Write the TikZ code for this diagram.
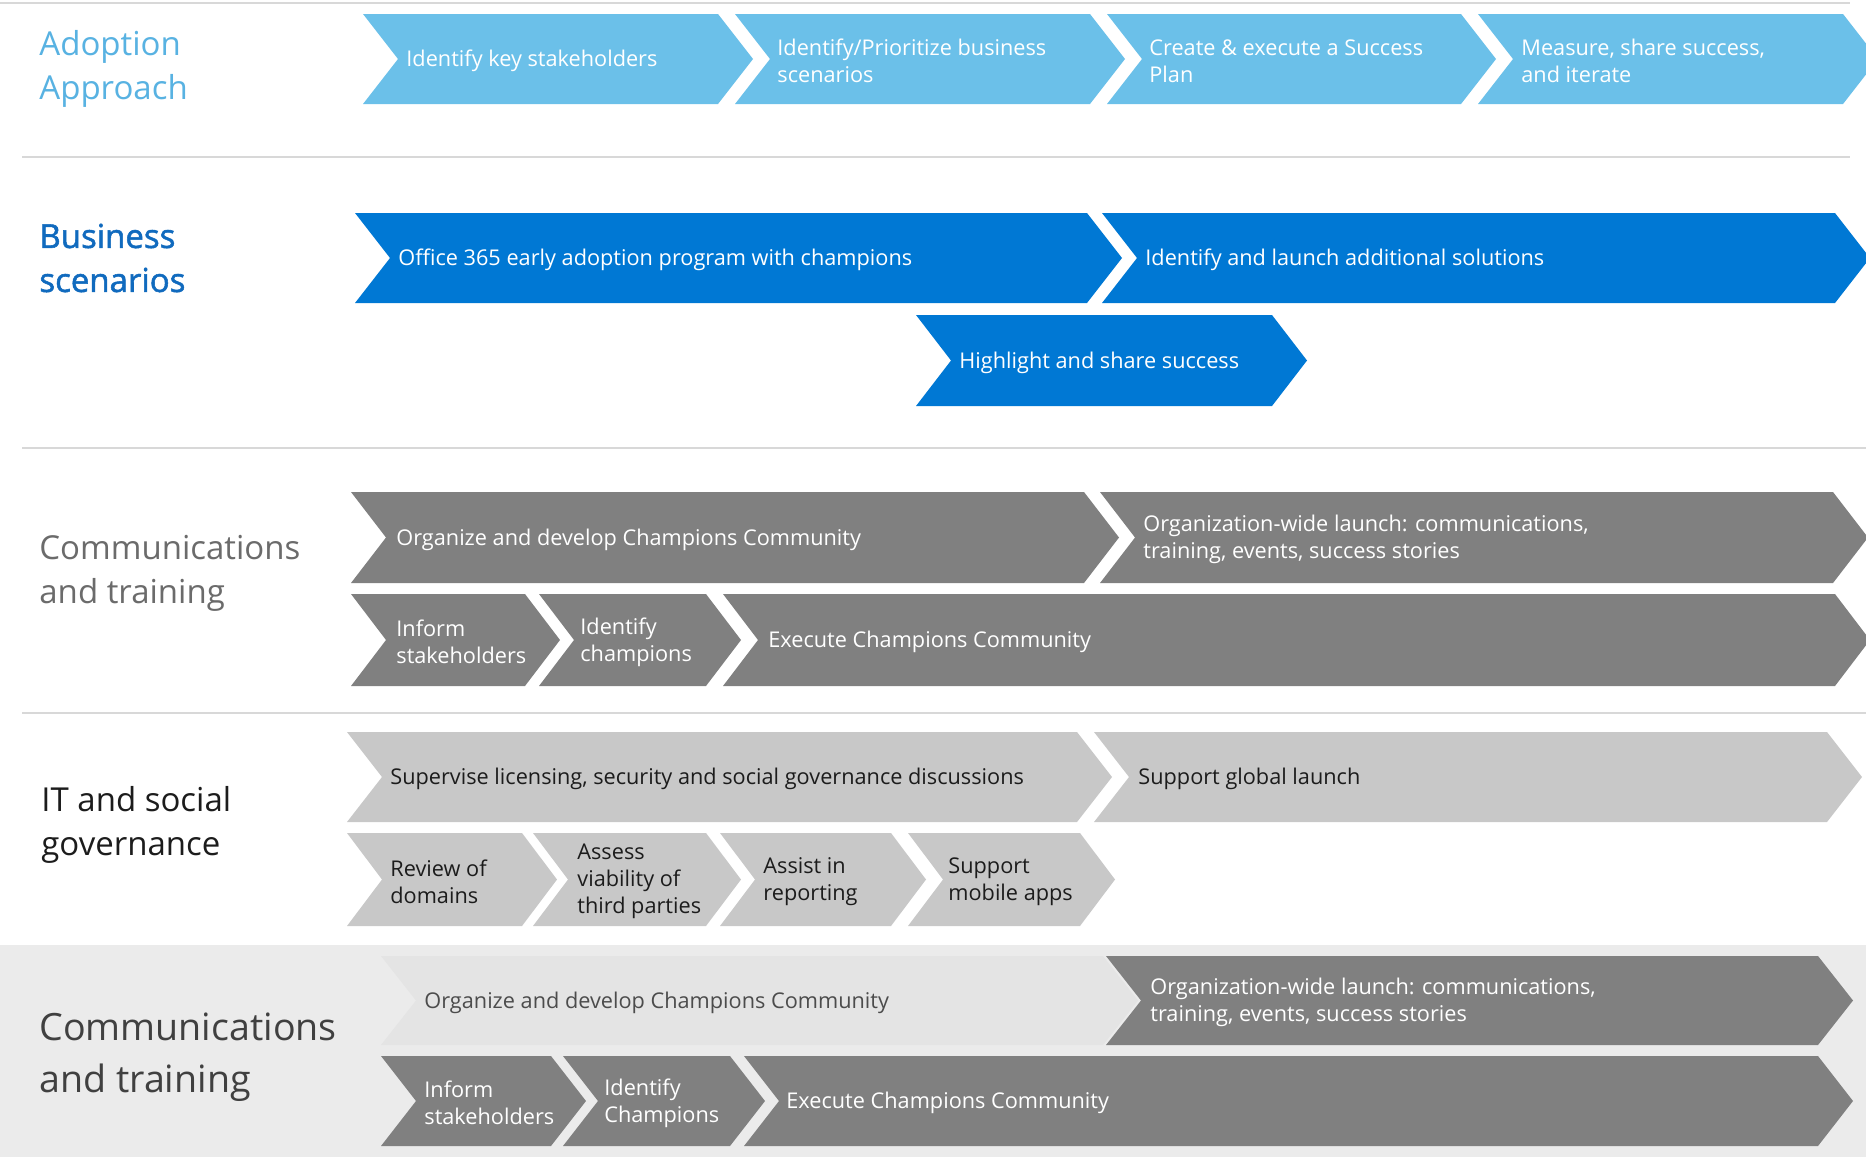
\documentclass[tikz,border=0pt]{standalone}
\usepackage{fontspec}
\setmainfont{Open Sans}
\newfontface\semibfont{Open Sans}[FakeBold=1.6]
\definecolor{lblue}{RGB}{107,192,233}
\definecolor{lbluetxt}{RGB}{88,178,226}
\definecolor{dblue}{RGB}{0,120,212}
\definecolor{dbluetxt}{RGB}{16,106,190}
\definecolor{dgrey}{RGB}{128,128,128}
\definecolor{dgreytxt}{RGB}{107,107,107}
\definecolor{lgrey}{RGB}{200,200,200}
\definecolor{blacktxt}{RGB}{28,28,28}
\definecolor{rowbg}{RGB}{235,235,235}
\definecolor{palechev}{RGB}{228,228,228}
\definecolor{sepline}{RGB}{216,216,216}
\tikzset{
  chevtxt/.style={anchor=west, inner sep=0pt, align=left, font=\fontsize{10.85}{13.5}\selectfont},
  lbl/.style={anchor=west, inner sep=0pt, align=left, font=\fontsize{16.5}{22}\selectfont},
  biglbl/.style={anchor=west, inner sep=0pt, align=left, font=\fontsize{18.8}{26}\selectfont},
  sep/.style={draw=sepline, line width=1.2pt}
}
\newcommand\chevshape[5]{\fill[#1] (#2,#4) -- ({#3-35},#4) -- (#3,{(#4+#5)/2}) -- ({#3-35},#5) -- (#2,#5) -- ({#2+35},{(#4+#5)/2}) -- cycle;}
\begin{document}
\begin{tikzpicture}[x=0.5pt,y=-0.5pt]
\path[use as bounding box, fill=white] (0,0) rectangle (1866,1157);

% separators
\draw[sep] (0,3) -- (1850,3);
\draw[sep] (22,157) -- (1850,157);
\draw[sep] (22,448) -- (1866,448);
\draw[sep] (22,713) -- (1866,713);

% ---------- Row 1: Adoption Approach
\node[lbl, text=lbluetxt] (lA) at (39,69) {Adoption\\Approach};
\chevshape{lblue}{363}{753}{14}{104}
\chevshape{lblue}{735}{1125}{14}{104}
\chevshape{lblue}{1107}{1496}{14}{104}
\chevshape{lblue}{1478}{1878}{14}{104}
\node[chevtxt, text=white] (a1) at (406,61) {Identify key stakeholders};
\node[chevtxt, text=white] (a2) at (777,61) {Identify/Prioritize business\\scenarios};
\node[chevtxt, text=white] (a3) at (1149,61) {Create \& execute a Success\\Plan};
\node[chevtxt, text=white] (a4) at (1521,61) {Measure, share success,\\and iterate};

% ---------- Row 2: Business scenarios
\node[lbl, text=dbluetxt, font=\fontsize{16.5}{22}\semibfont] (lB) at (39,258) {Business\\scenarios};
\chevshape{dblue}{355}{1122}{213}{303}
\chevshape{dblue}{1102}{1870}{213}{303}
\chevshape{dblue}{916}{1307}{315}{406}
\node[chevtxt, text=white] (b1) at (398,260) {Office 365 early adoption program with champions};
\node[chevtxt, text=white] (b2) at (1145,260) {Identify and launch additional solutions};
\node[chevtxt, text=white] (b3) at (959,362.5) {Highlight and share success};

% ---------- Row 3: Communications and training
\node[lbl, text=dgreytxt] (lC) at (39,573) {Communications\\and training};
\chevshape{dgrey}{351}{1119}{492}{583}
\chevshape{dgrey}{1100}{1868}{492}{583}
\chevshape{dgrey}{351}{560}{594}{686}
\chevshape{dgrey}{539}{741}{594}{686}
\chevshape{dgrey}{723}{1870}{594}{686}
\node[chevtxt, text=white] (c1) at (396,539.5) {Organize and develop Champions Community};
\node[chevtxt, text=white] (c2) at (1143,539.5) {Organization-wide launch: communications,\\training, events, success stories};
\node[chevtxt, text=white] (c3) at (396,642) {Inform\\stakeholders};
\node[chevtxt, text=white] (c4) at (580,642) {Identify\\champions};
\node[chevtxt, text=white] (c5) at (768,642) {Execute Champions Community};

% ---------- Row 4: IT and social governance
\node[lbl, text=blacktxt] (lD) at (41,825) {IT and social\\governance};
\chevshape{lgrey}{347}{1112}{732}{822}
\chevshape{lgrey}{1094}{1862}{732}{822}
\chevshape{lgrey}{347}{557}{833}{926}
\chevshape{lgrey}{533}{741}{833}{926}
\chevshape{lgrey}{720}{926}{833}{926}
\chevshape{lgrey}{908}{1115}{833}{926}
\node[chevtxt, text=blacktxt] (d1) at (390,779) {Supervise licensing, security and social governance discussions};
\node[chevtxt, text=blacktxt] (d2) at (1138,779) {Support global launch};
\node[chevtxt, text=blacktxt] (d3) at (390,881.5) {Review of\\domains};
\node[chevtxt, text=blacktxt] (d4) at (577,881.5) {Assess\\viability of\\third parties};
\node[chevtxt, text=blacktxt] (d5) at (763,881.5) {Assist in\\reporting};
\node[chevtxt, text=blacktxt] (d6) at (948,881.5) {Support\\mobile apps};

% ---------- Row 5: Communications and training (highlighted)
\fill[rowbg] (0,945) rectangle (1866,1157);
\node[biglbl, text=black!75] (lE) at (39,1057) {Communications\\and training};
\chevshape{palechev}{381}{1138}{956}{1045}
\chevshape{dgrey}{1106}{1853}{956}{1045}
\chevshape{dgrey}{381}{586}{1056}{1146}
\chevshape{dgrey}{563}{765}{1056}{1146}
\chevshape{dgrey}{744}{1853}{1056}{1146}
\node[chevtxt, text=black!70] (e1) at (424,1002.5) {Organize and develop Champions Community};
\node[chevtxt, text=white] (e2) at (1150,1002.5) {Organization-wide launch: communications,\\training, events, success stories};
\node[chevtxt, text=white] (e3) at (424,1103) {Inform\\stakeholders};
\node[chevtxt, text=white] (e4) at (604,1103) {Identify\\Champions};
\node[chevtxt, text=white] (e5) at (786,1103) {Execute Champions Community};
\end{tikzpicture}
\end{document}
